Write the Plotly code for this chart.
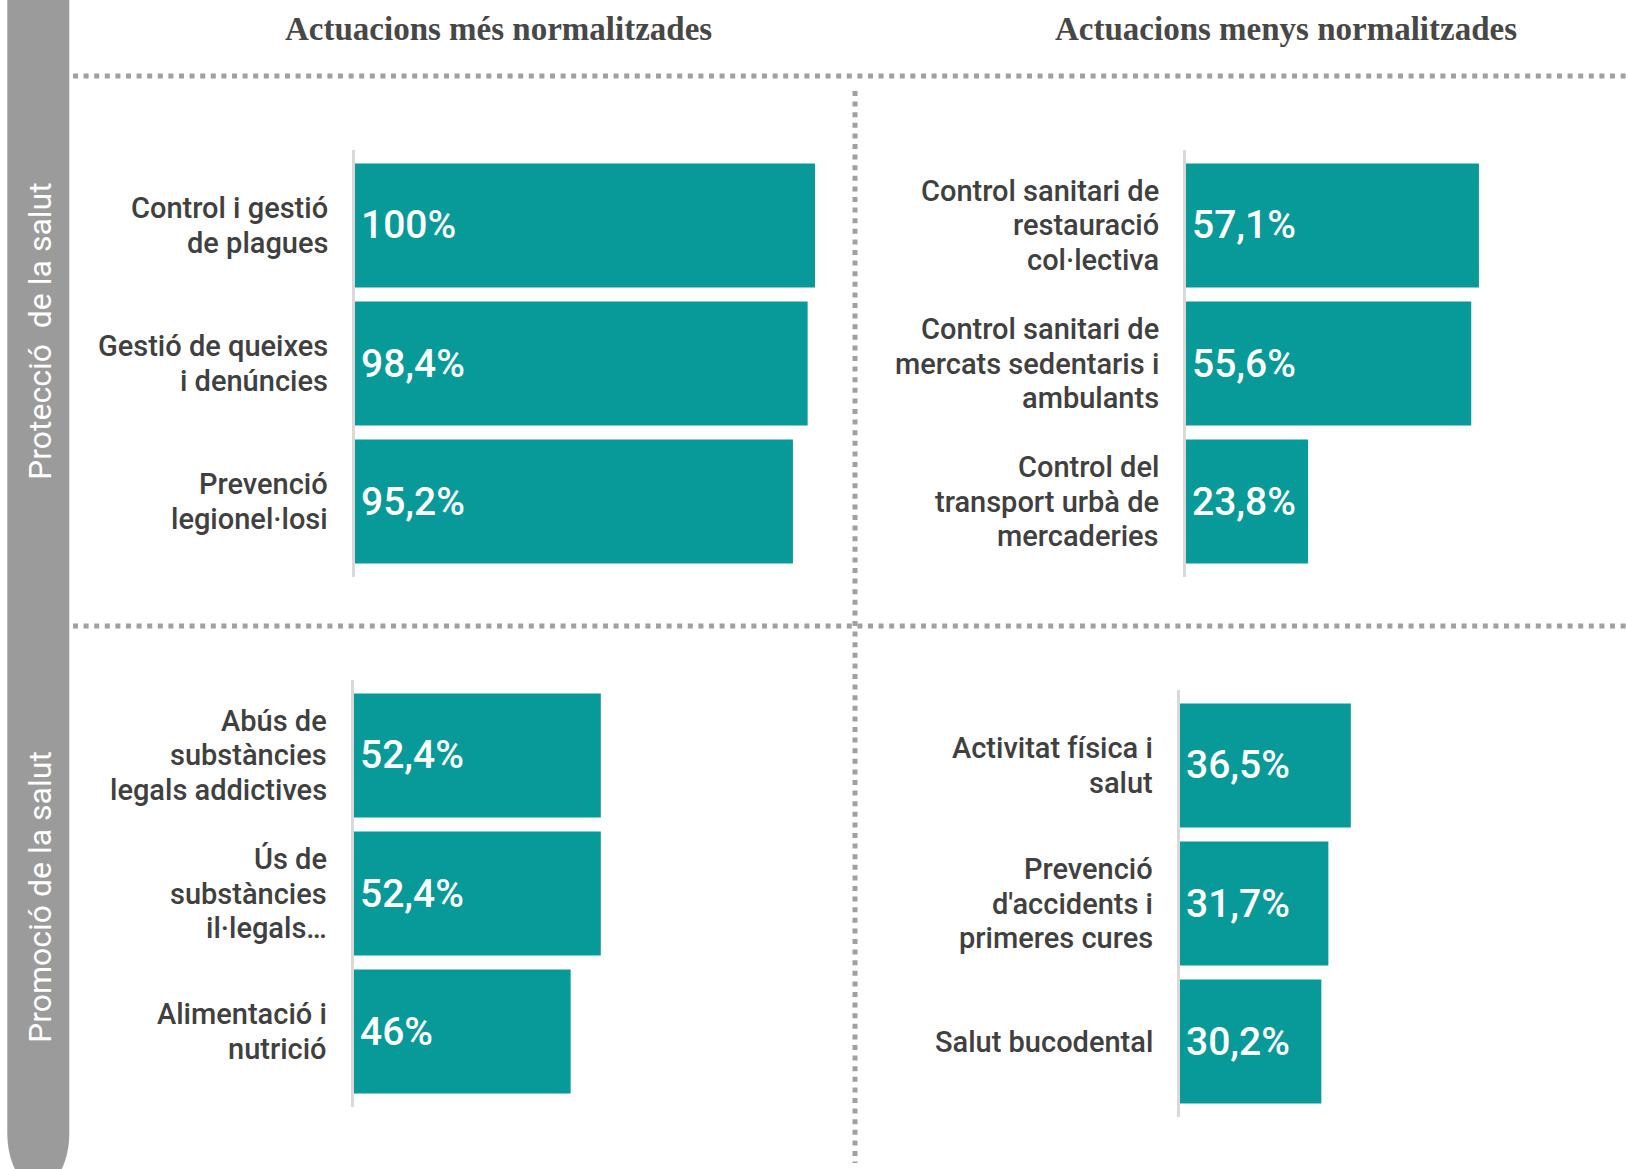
import plotly.graph_objects as go

# --- data ---
prot_mes_labels = ["Control i gestió<br>de plagues", "Gestió de queixes<br>i denúncies", "Prevenció<br>legionel·losi"]
prot_mes_values = [100, 98.4, 95.2]

prot_menys_labels = ["Control sanitari de<br>restauració<br>col·lectiva",
                     "Control sanitari de<br>mercats sedentaris i<br>ambulants",
                     "Control del<br>transport urbà de<br>mercaderies"]
prot_menys_values = [57.1, 55.6, 23.8]

promo_mes_labels = ["Abús de<br>substàncies<br>legals addictives", "Ús de<br>substàncies<br>il·legals…",
                    "Alimentació i<br>nutrició"]
promo_mes_values = [52.4, 52.4, 46]

promo_menys_labels = ["Activitat física i<br>salut", "Prevenció<br>d'accidents i<br>primeres cures",
                      "Salut bucodental"]
promo_menys_values = [36.5, 31.7, 30.2]

col_titles = ["Actuacions més normalitzades", "Actuacions menys normalitzades"]
row_titles = ["Protecció\u00a0 de la salut", "Promoció de la salut"]

W, H = 1626, 1169
TEAL = '#079a98'
GREY = '#9b9b9b'
TEXT = '#404040'


def px_x(p):
    return p / W


def px_y(p):
    return 1 - p / H


# panel geometry in pixels: axis x, px per 100%, visible max, y top, y bottom
panels = [
    dict(labels=prot_mes_labels, values=prot_mes_values, ax=355, ppu=460, xmax=100, top=150, bot=577),
    dict(labels=prot_menys_labels, values=prot_menys_values, ax=1186, ppu=513, xmax=80, top=150, bot=577),
    dict(labels=promo_mes_labels, values=promo_mes_values, ax=354, ppu=471, xmax=60, top=680, bot=1107),
    dict(labels=promo_menys_labels, values=promo_menys_values, ax=1180, ppu=468, xmax=80, top=690, bot=1117),
]

fig = go.Figure()
annotations = []
layout_axes = {}

for i, p in enumerate(panels):
    n = '' if i == 0 else str(i + 1)
    fig.add_trace(go.Bar(
        x=p['values'], y=p['labels'], orientation='h',
        xaxis='x' + n, yaxis='y' + n,
        marker=dict(color=TEAL, line=dict(width=0)),
        showlegend=False, hoverinfo='skip'
    ))
    layout_axes['xaxis' + n] = dict(
        domain=[px_x(p['ax']), px_x(p['ax'] + p['ppu'] * p['xmax'] / 100)],
        range=[0, p['xmax']], visible=False, anchor='y' + n, fixedrange=True
    )
    layout_axes['yaxis' + n] = dict(
        domain=[px_y(p['bot']), px_y(p['top'])],
        type='category', categoryorder='array', categoryarray=p['labels'],
        range=[2.547, -0.547], anchor='x' + n,
        showline=True, linecolor='#d9d9d9', linewidth=3,
        showticklabels=False, showgrid=False, zeroline=False, ticks='', fixedrange=True
    )

    for lab, v in zip(p['labels'], p['values']):
        # value inside the bar
        annotations.append(dict(
            xref='x' + n, yref='y' + n, x=0, y=lab, xanchor='left', yanchor='middle',
            xshift=4, text=f"{v:g}".replace('.', ',') + '%', showarrow=False,
            font=dict(family='Roboto', size=39, color='white', weight=500)
        ))
        # category label, one annotation per line to get the tight leading
        lines = lab.split('<br>')
        for k, line in enumerate(lines):
            annotations.append(dict(
                xref='x' + n + ' domain', yref='y' + n, x=0, y=lab,
                xanchor='right', yanchor='middle', xshift=-25,
                yshift=((len(lines) - 1) / 2 - k) * 34.3,
                text=line, showarrow=False,
                font=dict(family='Roboto', size=29, color=TEXT, weight=500)
            ))

# column headers
for cx, t in zip([498, 1286], col_titles):
    annotations.append(dict(
        xref='paper', yref='paper', x=px_x(cx), y=px_y(29), xanchor='center', yanchor='middle',
        text=t, showarrow=False,
        font=dict(family='Liberation Serif', size=33, color='#474747', weight='bold')
    ))

# row headers on the grey band
for cy, t in zip([331, 897], row_titles):
    annotations.append(dict(
        xref='paper', yref='paper', x=px_x(40), y=px_y(cy), xanchor='center', yanchor='middle',
        text=t, textangle=-90, showarrow=False,
        font=dict(family='Roboto', size=32, color='white')
    ))

k = 0.5523
band = (f"M {px_x(7.3)},{px_y(-5)} L {px_x(69.3)},{px_y(-5)} L {px_x(69.3)},{px_y(1133)} "
        f"C {px_x(69.3)},{px_y(1133 + 55 * k)} {px_x(38.3 + 31 * k)},{px_y(1188)} {px_x(38.3)},{px_y(1188)} "
        f"C {px_x(38.3 - 31 * k)},{px_y(1188)} {px_x(7.3)},{px_y(1133 + 55 * k)} {px_x(7.3)},{px_y(1133)} Z")

dots = dict(color='#a0a0a0', width=5, dash='5px,5.6px')
shapes = [
    dict(type='path', xref='paper', yref='paper', path=band, fillcolor=GREY, line=dict(width=0), layer='below'),
    dict(type='line', xref='paper', yref='paper', x0=px_x(73), x1=px_x(1630), y0=px_y(76), y1=px_y(76), line=dots),
    dict(type='line', xref='paper', yref='paper', x0=px_x(73), x1=px_x(1630), y0=px_y(626), y1=px_y(626), line=dots),
    dict(type='line', xref='paper', yref='paper', x0=px_x(855), x1=px_x(855), y0=px_y(91), y1=px_y(1163), line=dots),
]

fig.update_layout(
    width=W, height=H,
    margin=dict(l=0, r=0, t=0, b=0),
    paper_bgcolor='white', plot_bgcolor='white',
    bargap=0.1,
    annotations=annotations,
    shapes=shapes,
    **layout_axes
)

fig.write_html("out.html", config={'displayModeBar': False},
               post_script="document.body.style.margin='0';")
